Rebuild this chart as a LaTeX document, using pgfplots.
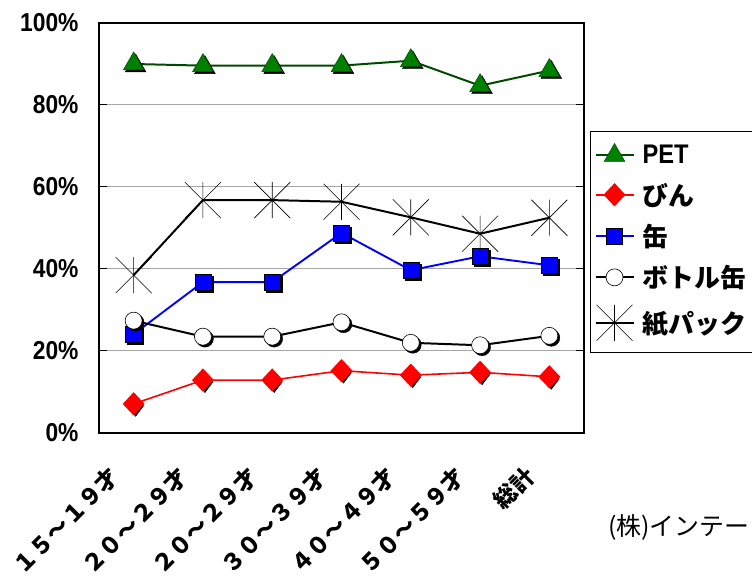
\documentclass[border=0pt]{standalone}
\usepackage{fontspec}
\setmainfont{Liberation Sans}[FakeStretch=0.88]
\newfontfamily\cjk{Noto Sans CJK JP}
\usepackage{pgfplots}
\pgfplotsset{compat=1.18}

\definecolor{petgreen}{HTML}{008000}
\definecolor{petline}{HTML}{004A00}

% star: vertical bar plus an X
\pgfdeclareplotmark{vstar}{%
  \pgfpathmoveto{\pgfqpoint{0pt}{-\pgfplotmarksize}}%
  \pgfpathlineto{\pgfqpoint{0pt}{\pgfplotmarksize}}%
  \pgfpathmoveto{\pgfqpoint{-\pgfplotmarksize}{-\pgfplotmarksize}}%
  \pgfpathlineto{\pgfqpoint{\pgfplotmarksize}{\pgfplotmarksize}}%
  \pgfpathmoveto{\pgfqpoint{-\pgfplotmarksize}{\pgfplotmarksize}}%
  \pgfpathlineto{\pgfqpoint{\pgfplotmarksize}{-\pgfplotmarksize}}%
  \pgfusepathqstroke}

\begin{document}
\begin{tikzpicture}[x=1bp,y=1bp]
\useasboundingbox (0,0) rectangle (752,576);
\begin{axis}[
  at={(99bp,143bp)}, anchor=south west,
  scale only axis, width=485bp, height=410bp,
  xmin=0, xmax=7, ymin=0, ymax=100,
  axis line style={line width=1.2pt},
  xtick={0.5,1.5,2.5,3.5,4.5,5.5,6.5},
  xticklabels={１５～１９才,２０～２９才,２０～２９才,３０～３９才,４０～４９才,５０～５９才,総計},
  x tick style={draw=none},
  extra x ticks={1,2,3,4,5,6},
  extra x tick labels={},
  extra x tick style={major tick length=11bp, tick style={draw=black, line width=1pt}},
  ytick={0,20,40,60,80,100},
  yticklabels={0\%,20\%,40\%,60\%,80\%,100\%},
  y tick style={draw=black, line width=1pt},
  major tick length=8bp,
  tick align=inside,
  ymajorgrids,
  grid style={draw=gray!70, line width=1pt},
  y tick label style={font=\bfseries\fontsize{26}{26}\selectfont, xshift=-17bp},
  x tick label style={font=\cjk\bfseries\fontsize{23}{23}\selectfont, xshift=-19bp, yshift=-39bp, rotate=45, anchor=east, inner sep=0pt},
  legend style={at={(rel axis cs:1.0124,0.7366)}, anchor=north west, draw=black, line width=1pt,
    font=\bfseries\fontsize{27}{27}\selectfont, row sep=13.5bp, inner xsep=4bp, inner ysep=12bp,
    cells={anchor=west}},
  legend image code/.code={\draw[mark repeat=2,mark phase=2,#1] plot coordinates {(0bp,0bp) (19bp,0bp) (38bp,0bp)}; \path (44bp,0bp);},
]

% PET
\addplot[forget plot, only marks, mark=triangle*, mark size=12bp, black, every mark/.append style={xshift=2bp,yshift=-2bp}]
  coordinates {(0.5,90.0) (1.5,89.6) (2.5,89.6) (3.5,89.6) (4.5,90.8) (5.5,84.7) (6.5,88.4)};
\addplot[petline, line width=2pt, mark=triangle*, mark size=12bp, mark options={fill=petgreen, draw=petline, line width=0.5pt}]
  coordinates {(0.5,90.0) (1.5,89.6) (2.5,89.6) (3.5,89.6) (4.5,90.8) (5.5,84.7) (6.5,88.4)};
\addlegendentry{PET}

% びん
\addplot[forget plot, only marks, mark=diamond*, mark size=10.5bp, black, every mark/.append style={xshift=2bp,yshift=-2bp}]
  coordinates {(0.5,7.1) (1.5,12.9) (2.5,12.9) (3.5,15.2) (4.5,14.1) (5.5,14.8) (6.5,13.7)};
\addplot[red, line width=1.6pt, mark=diamond*, mark size=10.5bp, mark options={fill=red, draw=red, xscale=1.25}]
  coordinates {(0.5,7.1) (1.5,12.9) (2.5,12.9) (3.5,15.2) (4.5,14.1) (5.5,14.8) (6.5,13.7)};
\addlegendentry{{\cjk\fontsize{26}{26}\selectfont びん}}

% 缶
\addplot[forget plot, only marks, mark=square*, mark size=8bp, black, every mark/.append style={xshift=2bp,yshift=-2bp}]
  coordinates {(0.5,24.1) (1.5,36.8) (2.5,36.8) (3.5,48.8) (4.5,39.7) (5.5,43.1) (6.5,40.9)};
\addplot[blue, line width=1.9pt, mark=square*, mark size=8bp, mark options={fill=blue, draw=black, line width=0.5pt}]
  coordinates {(0.5,24.1) (1.5,36.8) (2.5,36.8) (3.5,48.8) (4.5,39.7) (5.5,43.1) (6.5,40.9)};
\addlegendentry{{\cjk\fontsize{26}{26}\selectfont 缶}}

% ボトル缶
\addplot[forget plot, only marks, mark=*, mark size=8.5bp, black, every mark/.append style={xshift=2bp,yshift=-2bp}]
  coordinates {(0.5,27.4) (1.5,23.5) (2.5,23.5) (3.5,27.0) (4.5,22.0) (5.5,21.4) (6.5,23.7)};
\addplot[black, line width=2pt, mark=*, mark size=8.5bp, mark options={fill=white, draw=black, line width=0.6pt}]
  coordinates {(0.5,27.4) (1.5,23.5) (2.5,23.5) (3.5,27.0) (4.5,22.0) (5.5,21.4) (6.5,23.7)};
\addlegendentry{{\cjk\fontsize{26}{26}\selectfont ボトル缶}}

% 紙パック
\addplot[black, line width=2pt, mark=vstar, mark size=18bp, mark options={line width=0.6pt}]
  coordinates {(0.5,38.5) (1.5,56.8) (2.5,56.8) (3.5,56.4) (4.5,52.6) (5.5,48.6) (6.5,52.5)};
\addlegendentry{{\cjk\fontsize{26}{26}\selectfont 紙パック}}

\end{axis}
\node[anchor=west, font=\cjk\fontsize{25}{25}\selectfont, inner sep=0pt] at (608,49) {(株)インテー};
\end{tikzpicture}
\end{document}
